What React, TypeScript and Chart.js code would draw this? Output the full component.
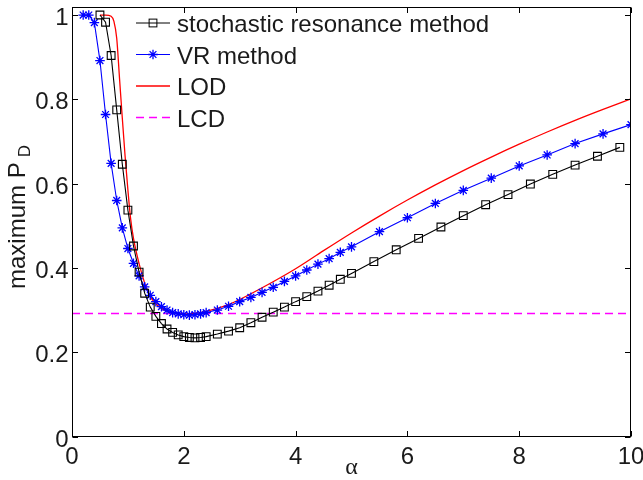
import React, { useEffect, useRef } from 'react';
import { Chart, registerables } from 'chart.js';

Chart.register(...registerables);

// ---- data ----
const srAlpha = [0.5, 0.6, 0.7, 0.8, 0.9, 1.0, 1.1, 1.2, 1.3, 1.4, 1.5, 1.6, 1.7, 1.8, 1.9, 2.0, 2.1, 2.2, 2.3, 2.4,
  2.6, 2.8, 3.0, 3.2, 3.4, 3.6, 3.8, 4.0, 4.2, 4.4, 4.6, 4.8, 5.0,
  5.4, 5.8, 6.2, 6.6, 7.0, 7.4, 7.8, 8.2, 8.6, 9.0, 9.4, 9.8];
const srValues = [1.0, 0.983, 0.904, 0.775, 0.646, 0.537, 0.452, 0.39, 0.34, 0.307, 0.285, 0.268, 0.255, 0.247, 0.241, 0.237, 0.235, 0.234, 0.235, 0.237,
  0.243, 0.25, 0.258, 0.27, 0.283, 0.295, 0.307, 0.32, 0.332, 0.345, 0.359, 0.373, 0.387,
  0.415, 0.443, 0.47, 0.497, 0.524, 0.55, 0.574, 0.599, 0.622, 0.644, 0.665, 0.686];

const vrAlpha = [0.2, 0.3, 0.4, 0.5, 0.6, 0.7, 0.8, 0.9, 1.0, 1.1, 1.2, 1.3, 1.4, 1.5, 1.6, 1.7, 1.8, 1.9, 2.0, 2.1, 2.2, 2.3, 2.4,
  2.6, 2.8, 3.0, 3.2, 3.4, 3.6, 3.8, 4.0, 4.2, 4.4, 4.6, 4.8, 5.0,
  5.5, 6.0, 6.5, 7.0, 7.5, 8.0, 8.5, 9.0, 9.5, 10.0];
const vrValues = [1.0, 1.0, 0.982, 0.892, 0.764, 0.648, 0.56, 0.495, 0.446, 0.411, 0.381, 0.355, 0.335, 0.32, 0.308, 0.3, 0.294, 0.291, 0.289, 0.288, 0.289, 0.291, 0.294,
  0.3, 0.309, 0.32, 0.33, 0.342, 0.354, 0.368, 0.381, 0.395, 0.409, 0.422, 0.437, 0.45,
  0.486, 0.519, 0.553, 0.584, 0.613, 0.642, 0.668, 0.695, 0.718, 0.74];

const lodAlpha = [0.5, 0.6, 0.7, 0.75, 0.8, 0.85, 0.9, 0.95, 1.0, 1.05, 1.1, 1.2, 1.3, 1.4, 1.5, 1.6, 1.7, 1.8, 1.9, 2.0, 2.1, 2.2,
  2.4, 2.6, 2.8, 3.0, 3.5, 4.0, 4.5, 5.0, 5.5, 6.0, 6.5, 7.0, 7.5, 8.0, 8.5, 9.0, 9.5, 10.0];
const lodValues = [1.0, 1.0, 0.997, 0.985, 0.945, 0.85, 0.755, 0.665, 0.585, 0.515, 0.47, 0.41, 0.364, 0.332, 0.315, 0.304, 0.298, 0.294, 0.292, 0.291, 0.291, 0.292,
  0.297, 0.304, 0.313, 0.325, 0.36, 0.398, 0.441, 0.483, 0.523, 0.561, 0.597, 0.631, 0.663, 0.6935, 0.7225, 0.75, 0.776, 0.801];

const lcdAlpha = [0, 10];
const lcdValues = [0.2916, 0.2916];

const xTicks = [0, 2, 4, 6, 8, 10];
const yTicks = [0, 0.2, 0.4, 0.6, 0.8, 1];
const xTickLabels = ['0', '2', '4', '6', '8', '10'];
const yTickLabels = ['0', '0.2', '0.4', '0.6', '0.8', '1'];
const legendLabels = ['stochastic resonance method', 'VR method', 'LOD', 'LCD'];
const xTitle = 'α';
const yTitleMain = 'maximum P';
const yTitleSub = 'D';

const SANS = '"Liberation Sans", Arial, Helvetica, sans-serif';
const SERIF = '"Liberation Serif", "Times New Roman", serif';

const zip = (xs: number[], ys: number[]) => xs.map((x, i) => ({ x, y: ys[i] }));

function drawStar(ctx: CanvasRenderingContext2D, x: number, y: number, r: number) {
  const d = r * Math.SQRT1_2;
  ctx.beginPath();
  ctx.moveTo(x, y - r); ctx.lineTo(x, y + r);
  ctx.moveTo(x - r, y); ctx.lineTo(x + r, y);
  ctx.moveTo(x - d, y - d); ctx.lineTo(x + d, y + d);
  ctx.moveTo(x - d, y + d); ctx.lineTo(x + d, y - d);
  ctx.stroke();
}

const framePlugin = {
  id: 'matlabFrame',
  afterDraw(chart: any) {
    const { ctx, chartArea: a, scales } = chart;
    const xs = scales.x;
    const ys = scales.y;
    ctx.save();
    ctx.strokeStyle = '#000';
    ctx.fillStyle = '#1a1a1a';
    ctx.lineWidth = 1;
    const L = Math.round(a.left) + 0.5;
    const R = Math.round(a.right) - 0.5;
    const T = Math.round(a.top) + 0.5;
    const B = Math.round(a.bottom) - 0.5;
    ctx.strokeRect(L, T, R - L, B - T);
    const tl = 5.5;
    ctx.beginPath();
    xTicks.forEach((v) => {
      const px = Math.round(xs.getPixelForValue(v)) + 0.5;
      ctx.moveTo(px, B); ctx.lineTo(px, B - tl);
      ctx.moveTo(px, T); ctx.lineTo(px, T + tl);
    });
    yTicks.forEach((v) => {
      const py = Math.round(ys.getPixelForValue(v)) + 0.5;
      ctx.moveTo(L, py); ctx.lineTo(L + tl, py);
      ctx.moveTo(R, py); ctx.lineTo(R - tl, py);
    });
    ctx.stroke();

    ctx.font = `24px ${SANS}`;
    ctx.textBaseline = 'alphabetic';
    ctx.textAlign = 'center';
    xTicks.forEach((v, i) => {
      ctx.fillText(xTickLabels[i], xs.getPixelForValue(v), 464);
    });
    ctx.textAlign = 'right';
    yTicks.forEach((v, i) => {
      ctx.fillText(yTickLabels[i], 68.5, ys.getPixelForValue(v) + 10);
    });

    // x title
    ctx.font = `24px ${SERIF}`;
    ctx.textAlign = 'center';
    ctx.fillText(xTitle, (a.left + a.right) / 2, 474);

    // y title
    ctx.save();
    ctx.translate(25, 289);
    ctx.rotate(-Math.PI / 2);
    ctx.font = `24px ${SANS}`;
    ctx.textAlign = 'left';
    ctx.fillText(yTitleMain, 0, 0);
    const w = ctx.measureText(yTitleMain).width;
    ctx.font = `17px ${SANS}`;
    ctx.fillText(yTitleSub, w + 5, 5);
    ctx.restore();

    // legend
    const ly = [23, 54.5, 86, 117.5];
    const x0 = 136, x1 = 170, xm = 153, tx = 177;
    ctx.font = `24px ${SANS}`;
    ctx.textAlign = 'left';
    legendLabels.forEach((lab, i) => {
      const y = ly[i];
      ctx.save();
      ctx.lineWidth = 1;
      if (i === 0) ctx.strokeStyle = '#000';
      if (i === 1) ctx.strokeStyle = '#0000ff';
      if (i === 2) { ctx.strokeStyle = '#ff0000'; ctx.lineWidth = 1.3; }
      if (i === 3) { ctx.strokeStyle = '#ff00ff'; ctx.setLineDash([8, 5]); ctx.lineWidth = 1.5; }
      ctx.beginPath();
      ctx.moveTo(x0, y); ctx.lineTo(x1, y);
      ctx.stroke();
      ctx.setLineDash([]);
      if (i === 0) {
        const s = 5.5 * Math.SQRT1_2;
        ctx.strokeRect(xm - s, y - s, 2 * s, 2 * s);
      }
      if (i === 1) {
        ctx.lineWidth = 1.3;
        drawStar(ctx, xm, y, 4.8);
      }
      ctx.restore();
      ctx.fillText(lab, tx, y + 9);
    });
    ctx.restore();
  },
};

export default function App() {
  const ref = useRef<HTMLCanvasElement | null>(null);
  useEffect(() => {
    if (!ref.current) return;
    const chart = new Chart(ref.current, {
      type: 'line',
      data: {
        datasets: [
          {
            label: legendLabels[0],
            data: zip(srAlpha, srValues),
            borderColor: '#000000',
            borderWidth: 1.1,
            pointStyle: 'rect',
            pointRadius: 5.5,
            pointBorderWidth: 1.1,
            pointBorderColor: '#000000',
            pointBackgroundColor: 'rgba(0,0,0,0)',
            tension: 0,
            fill: false,
          },
          {
            label: legendLabels[1],
            data: zip(vrAlpha, vrValues),
            borderColor: '#0000ff',
            borderWidth: 1.1,
            pointStyle: 'star',
            pointRadius: 4.8,
            pointBorderWidth: 1.3,
            pointBorderColor: '#0000ff',
            pointBackgroundColor: '#0000ff',
            tension: 0,
            fill: false,
          },
          {
            label: legendLabels[2],
            data: zip(lodAlpha, lodValues),
            borderColor: '#ff0000',
            borderWidth: 1.3,
            pointRadius: 0,
            cubicInterpolationMode: 'monotone',
            fill: false,
          },
          {
            label: legendLabels[3],
            data: zip(lcdAlpha, lcdValues),
            borderColor: '#ff00ff',
            borderWidth: 1.5,
            borderDash: [8, 5],
            pointRadius: 0,
            fill: false,
          },
        ],
      },
      options: {
        responsive: false,
        animation: false,
        devicePixelRatio: 1,
        events: [],
        layout: { padding: { left: 72, right: 12, top: 1.5, bottom: 43.5 } },
        plugins: { legend: { display: false }, tooltip: { enabled: false } },
        scales: {
          x: { type: 'linear', min: 0, max: 10, display: false },
          y: { type: 'linear', min: 0, max: 1.02, display: false },
        },
      },
      plugins: [framePlugin],
    });
    return () => chart.destroy();
  }, []);
  return (
    <div style={{ position: 'absolute', left: 0, top: 0, width: 643, height: 480, background: '#fff' }}>
      <canvas ref={ref} width={643} height={480} style={{ width: 643, height: 480, display: 'block' }} />
    </div>
  );
}
